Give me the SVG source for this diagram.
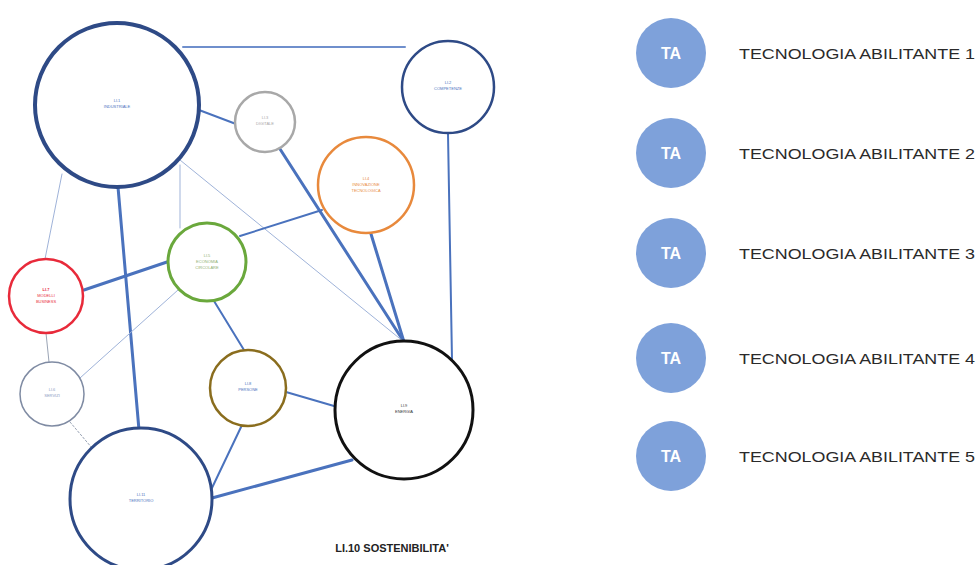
<svg xmlns="http://www.w3.org/2000/svg" width="978" height="565" viewBox="0 0 978 565">
  <style>
    .lnk { stroke: #4a72bd; fill: none; stroke-linecap: round; }
    .thin { stroke-width: 1; stroke: #9fb3d9; }
    .med { stroke-width: 2; }
    .thick { stroke-width: 3; }
    .node { fill: #ffffff; }
    .lbl { font-family: "Liberation Sans", Arial, sans-serif; font-size: 4px; text-anchor: middle; }
    .ta circle { fill: #7ea1da; }
    .ta text.badge { font-family: "Liberation Sans", Arial, sans-serif; font-size: 16px; font-weight: bold; fill: #ffffff; text-anchor: middle; }
    .ta text.name { font-family: "Liberation Sans", Arial, sans-serif; font-size: 14px; fill: #2a2a2a; }
    .title { font-family: "Liberation Sans", Arial, sans-serif; font-size: 11px; font-weight: bold; fill: #222222; text-anchor: middle; }
  </style>
  <rect width="978" height="565" fill="#ffffff"/>

  <!-- connectors -->
  <g id="connectors">
    <line class="lnk med" x1="183" y1="47" x2="405" y2="47" style="stroke:#6f8fcc"/>
    <line class="lnk med" x1="199" y1="110" x2="236" y2="124"/>
    <line class="lnk thick" x1="280" y1="149" x2="404" y2="342"/>
    <line class="lnk thick" x1="371" y1="234" x2="404" y2="342"/>
    <line class="lnk med" x1="448" y1="134" x2="452" y2="360"/>
    <line class="lnk thin" x1="180" y1="160" x2="404" y2="342"/>
    <line class="lnk thick" x1="118" y1="187" x2="139" y2="430"/>
    <line class="lnk thin" x1="62" y1="174" x2="45" y2="259"/>
    <line class="lnk thin" x1="180" y1="165" x2="180" y2="228"/>
    <line class="lnk med" x1="240" y1="236" x2="322" y2="210"/>
    <line class="lnk thick" x1="84" y1="290" x2="167" y2="262"/>
    <line class="lnk thin" x1="178" y1="290" x2="80" y2="378"/>
    <line class="lnk thin" x1="46" y1="333" x2="49" y2="362" style="stroke:#9aa4b5"/>
    <line class="lnk med" x1="214" y1="301" x2="244" y2="350"/>
    <line class="lnk med" x1="286" y1="392" x2="334" y2="406"/>
    <line class="lnk med" x1="242" y1="425" x2="211" y2="490"/>
    <line class="lnk thick" x1="212" y1="498" x2="352" y2="460"/>
    <line class="lnk thin" x1="70" y1="422" x2="92" y2="448" style="stroke:#9aa4b5;stroke-dasharray:2 2"/>
  </g>

  <!-- nodes -->
  <g id="n-li1">
    <circle class="node" cx="117" cy="105" r="82" stroke="#2e4a86" stroke-width="4"/>
    <text class="lbl" x="117" y="102" fill="#4a72bd">LI.1</text>
    <text class="lbl" x="117" y="108" fill="#4a72bd">INDUSTRIALE</text>
  </g>
  <g id="n-li2">
    <circle class="node" cx="448" cy="87" r="46" stroke="#2e4a86" stroke-width="2.5"/>
    <text class="lbl" x="448" y="84" fill="#4a72bd">LI.2</text>
    <text class="lbl" x="448" y="90" fill="#4a72bd">COMPETENZE</text>
  </g>
  <g id="n-li3">
    <circle class="node" cx="265" cy="122" r="30" stroke="#a8a8a8" stroke-width="2.5"/>
    <text class="lbl" x="265" y="119" fill="#a8a8a8">LI.3</text>
    <text class="lbl" x="265" y="125" fill="#a8a8a8">DIGITALE</text>
  </g>
  <g id="n-li4">
    <circle class="node" cx="366" cy="185" r="48" stroke="#e8893c" stroke-width="2.5"/>
    <text class="lbl" x="366" y="180" fill="#e8893c">LI.4</text>
    <text class="lbl" x="366" y="186" fill="#e8893c">INNOVAZIONE</text>
    <text class="lbl" x="366" y="192" fill="#e8893c">TECNOLOGICA</text>
  </g>
  <g id="n-li5">
    <circle class="node" cx="207" cy="262" r="39" stroke="#6aa83c" stroke-width="3"/>
    <text class="lbl" x="207" y="257" fill="#8fb070">LI.5</text>
    <text class="lbl" x="207" y="263" fill="#8fb070">ECONOMIA</text>
    <text class="lbl" x="207" y="269" fill="#8fb070">CIRCOLARE</text>
  </g>
  <g id="n-li7">
    <circle class="node" cx="46" cy="296" r="37" stroke="#e82a3a" stroke-width="2.5"/>
    <text class="lbl" x="46" y="291" fill="#e82a3a" font-weight="bold">LI.7</text>
    <text class="lbl" x="46" y="297" fill="#e82a3a">MODELLI</text>
    <text class="lbl" x="46" y="303" fill="#e82a3a">BUSINESS</text>
  </g>
  <g id="n-li6">
    <circle class="node" cx="52" cy="394" r="32" stroke="#7f8ba3" stroke-width="1.5"/>
    <text class="lbl" x="52" y="391" fill="#8a9bbf">LI.6</text>
    <text class="lbl" x="52" y="397" fill="#8a9bbf">SERVIZI</text>
  </g>
  <g id="n-li8">
    <circle class="node" cx="248" cy="388" r="38" stroke="#8a6d1e" stroke-width="2.5"/>
    <text class="lbl" x="248" y="385" fill="#4a72bd">LI.8</text>
    <text class="lbl" x="248" y="391" fill="#4a72bd">PERSONE</text>
  </g>
  <g id="n-li9">
    <circle class="node" cx="404" cy="410" r="69" stroke="#111111" stroke-width="3"/>
    <text class="lbl" x="404" y="407" fill="#333333">LI.9</text>
    <text class="lbl" x="404" y="413" fill="#333333">ENERGIA</text>
  </g>
  <g id="n-li11">
    <circle class="node" cx="141" cy="499" r="71" stroke="#2e4a86" stroke-width="3"/>
    <text class="lbl" x="141" y="496" fill="#4a72bd">LI.11</text>
    <text class="lbl" x="141" y="502" fill="#4a72bd">TERRITORIO</text>
  </g>

  <text class="title" x="392" y="552">LI.10 SOSTENIBILITA'</text>

  <!-- legend -->
  <g id="legend-1" class="ta">
    <circle cx="671" cy="53" r="35"/>
    <text class="badge" x="671" y="59">TA</text>
    <text class="name" x="739" y="59" textLength="236" lengthAdjust="spacingAndGlyphs">TECNOLOGIA ABILITANTE 1</text>
  </g>
  <g id="legend-2" class="ta">
    <circle cx="671" cy="153" r="35"/>
    <text class="badge" x="671" y="159">TA</text>
    <text class="name" x="739" y="159" textLength="236" lengthAdjust="spacingAndGlyphs">TECNOLOGIA ABILITANTE 2</text>
  </g>
  <g id="legend-3" class="ta">
    <circle cx="671" cy="253" r="35"/>
    <text class="badge" x="671" y="259">TA</text>
    <text class="name" x="739" y="259" textLength="236" lengthAdjust="spacingAndGlyphs">TECNOLOGIA ABILITANTE 3</text>
  </g>
  <g id="legend-4" class="ta">
    <circle cx="671" cy="358" r="35"/>
    <text class="badge" x="671" y="364">TA</text>
    <text class="name" x="739" y="364" textLength="236" lengthAdjust="spacingAndGlyphs">TECNOLOGIA ABILITANTE 4</text>
  </g>
  <g id="legend-5" class="ta">
    <circle cx="671" cy="456" r="35"/>
    <text class="badge" x="671" y="462">TA</text>
    <text class="name" x="739" y="462" textLength="236" lengthAdjust="spacingAndGlyphs">TECNOLOGIA ABILITANTE 5</text>
  </g>
</svg>
